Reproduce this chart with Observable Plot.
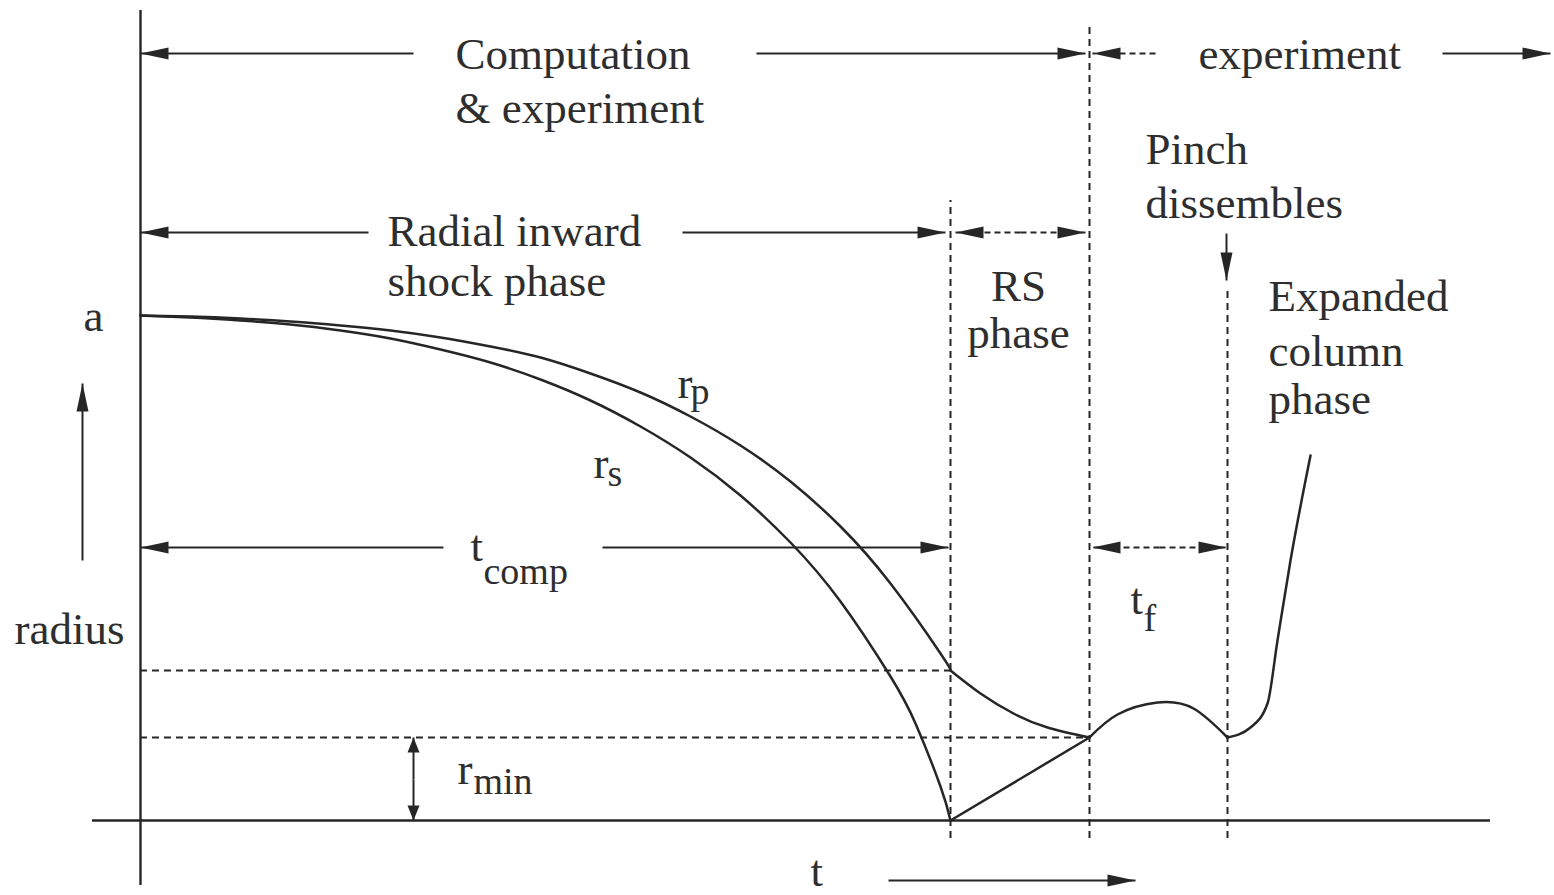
<!DOCTYPE html>
<html><head><meta charset="utf-8">
<script src="https://cdn.jsdelivr.net/npm/d3@7"></script>
<script src="https://cdn.jsdelivr.net/npm/@observablehq/plot@0.6"></script>
<style>html,body{margin:0;padding:0;background:#fff;} svg{display:block}</style>
</head><body><div id="chart"></div>
<script>
// ---- data (t = time, r = radius, schematic units) ----
// piston (current sheath) radius r_p
const rpT = [0, 50, 100, 150, 200, 250, 300, 350, 400, 450, 500, 550, 600, 650, 700, 750, 800, 810, 840, 873, 907, 949, 977, 1017, 1053, 1087, 1110, 1127, 1137, 1150, 1170];
const rpR = [505, 504, 502, 499, 495, 490, 483, 474, 463, 447, 428, 404, 375, 339, 294, 237, 167, 150, 127, 107, 93, 83, 106, 118, 112, 83, 93, 117, 180, 260, 365];
const rpBreaks = [810, 949, 1087];
// shock front radius r_s
const rsT = [0, 50, 100, 150, 200, 250, 300, 350, 400, 450, 500, 550, 600, 650, 700, 750, 775, 800, 810];
const rsR = [505, 503, 500, 496, 490, 482, 471, 458, 441, 420, 394, 363, 325, 278, 219, 144, 97, 34, 0];
// reflected shock
const reflT = [810, 949];
const reflR = [0, 83];
// phase boundaries (vertical dashed) and guide levels (horizontal dashed)
const phaseBoundT = [810, 949, 1087];
const phaseBoundTop = [620, 795, 530];
const guideR = [150, 83];
const guideEndT = [810, 949];
// arrows [t1, r1, t2, r2] : head at (t2, r2)
const solidArrows = [[273, 767, 0, 767], [616, 767, 945, 767], [1302, 767, 1410, 767],
  [228, 588, 0, 588], [542, 588, 805, 588], [303, 273, 0, 273], [462, 273, 808, 273],
  [-58, 260, -58, 437], [748, -60, 995, -60], [1086, 587, 1086, 540]];
const dashedArrows = [[1015, 767, 952, 767], [880, 588, 815, 588], [880, 588, 945, 588],
  [1019, 273, 952, 273], [1019, 273, 1086, 273]];
const smallArrows = [[273, 41, 273, 83], [273, 41, 273, 0]];
// labels
const phaseLabels = ["Computation", "& experiment", "experiment", "Radial inward", "shock phase", "Pinch", "dissembles", "Expanded", "column", "phase"];
const phaseLabelT = [315, 315, 1058, 247, 247, 1005, 1005, 1128, 1128, 1128];
const phaseLabelR = [766, 712, 766, 589, 539, 671, 617, 524, 469, 421];
const centerLabels = ["RS", "phase", "a"];
const centerLabelT = [878, 878, -47];
const centerLabelR = [534, 487, 504];
const symMain = ["r", "r", "r", "t", "t", "t"];
const symMainT = [537, 453, 317, 330, 990, 670];
const symMainR = [437, 357, 51, 274, 221, -51];
const symSub = ["p", "s", "min", "comp", "f"];
const symSubT = [550, 467, 333, 343, 1003];
const symSubR = [429, 347, 39, 249, 202];

// ---- build tables ----
function segmentRows(T, R, breaks) {
  const rows = [];
  let seg = 0;
  T.forEach((t, i) => {
    rows.push({t, r: R[i], seg});
    if (breaks.includes(t)) { seg++; rows.push({t, r: R[i], seg}); }
  });
  return rows;
}
const rpRows = segmentRows(rpT, rpR, rpBreaks);
const rpMain = rpRows.filter(d => d.seg < 3);
const rpRise = rpRows.filter(d => d.seg === 3);
const rsRows = rsT.map((t, i) => ({t, r: rsR[i], seg: 0}));
const reflRows = reflT.map((t, i) => ({t, r: reflR[i]}));
const idx = a => a.map((_, i) => i);

const head = {draw(ctx) { ctx.moveTo(0, 0); ctx.lineTo(-6, 28); ctx.lineTo(6, 28); ctx.closePath(); }};
const smallHead = {draw(ctx) { ctx.moveTo(0, 0); ctx.lineTo(-6, 15); ctx.lineTo(6, 15); ctx.closePath(); }};
const angle = d => Math.atan2(d[2] - d[0], d[3] - d[1]) * 180 / Math.PI;
const ink = "#262626";
const textInk = "#2e2e2e";

const arrowMarks = (arr, sym, dash) => [
  Plot.link(arr, {x1: d => d[0], y1: d => d[1], x2: d => d[2], y2: d => d[3], stroke: ink, strokeWidth: 2, strokeDasharray: dash}),
  Plot.dot(arr, {x: d => d[2], y: d => d[3], symbol: sym, rotate: angle, fill: ink, stroke: null})
];

const chart = Plot.plot({
  width: 1554, height: 895, margin: 0,
  x: {domain: [-140, 1414], axis: null},
  y: {domain: [-75, 820], axis: null},
  style: {fontFamily: "Liberation Serif", background: "white"},
  marks: [
    // frame axes
    Plot.ruleX([0], {y1: -65, y2: 810, stroke: ink, strokeWidth: 2.4}),
    Plot.ruleY([0], {x1: -48, x2: 1350, stroke: ink, strokeWidth: 2.4}),
    // dashed guides
    Plot.ruleX(phaseBoundT, {x: d => d, y1: -18, y2: (d, i) => phaseBoundTop[i], stroke: ink, strokeWidth: 2, strokeDasharray: "7,5"}),
    Plot.ruleY(guideR, {y: d => d, x1: 0, x2: (d, i) => guideEndT[i], stroke: ink, strokeWidth: 2, strokeDasharray: "7,5"}),
    // curves
    Plot.line(rsRows, {x: "t", y: "r", z: "seg", curve: "natural", stroke: ink, strokeWidth: 2.5}),
    Plot.line(rpMain, {x: "t", y: "r", z: "seg", curve: "natural", stroke: ink, strokeWidth: 2.5}),
    Plot.line(rpRise, {x: "t", y: "r", curve: "monotone-x", stroke: ink, strokeWidth: 2.5}),
    Plot.line(reflRows, {x: "t", y: "r", stroke: ink, strokeWidth: 2.5}),
    // arrows
    ...arrowMarks(solidArrows, head, null),
    ...arrowMarks(dashedArrows, head, "6,4"),
    ...arrowMarks(smallArrows, smallHead, null),
    // labels
    Plot.text(idx(phaseLabels), {x: i => phaseLabelT[i], y: i => phaseLabelR[i], text: i => phaseLabels[i], textAnchor: "start", fontSize: 45, fill: textInk}),
    Plot.text(idx(centerLabels), {x: i => centerLabelT[i], y: i => centerLabelR[i], text: i => centerLabels[i], textAnchor: "middle", fontSize: 45, fill: textInk}),
    Plot.text(["radius"], {x: -16, y: 191, text: d => d, textAnchor: "end", fontSize: 45, fill: textInk}),
    Plot.text(idx(symMain), {x: i => symMainT[i], y: i => symMainR[i], text: i => symMain[i], textAnchor: "start", fontSize: 45, fill: textInk}),
    Plot.text(idx(symSub), {x: i => symSubT[i], y: i => symSubR[i], text: i => symSub[i], textAnchor: "start", fontSize: 38, fill: textInk})
  ]
});
document.getElementById("chart").appendChild(chart);
</script>
</body></html>
